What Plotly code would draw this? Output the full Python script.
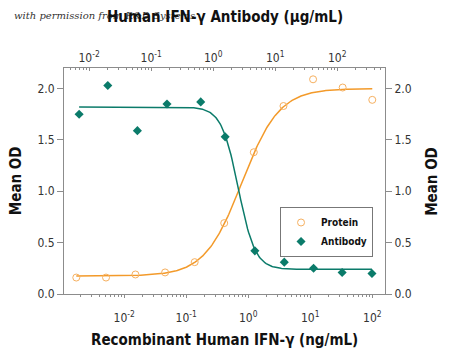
import numpy as np
import plotly.graph_objects as go

# ---- data ----
protein_conc = [0.00169, 0.0051, 0.0152, 0.0457, 0.137, 0.41, 1.23, 3.7, 11.1, 33.3, 100]   # ng/mL
protein_od = [0.16, 0.16, 0.19, 0.21, 0.31, 0.69, 1.38, 1.83, 2.09, 2.01, 1.89]

antibody_conc = [0.0069, 0.020, 0.060, 0.18, 0.63, 1.56, 4.7, 14.0, 41.5, 120, 363]   # ug/mL
antibody_od = [1.75, 2.03, 1.59, 1.85, 1.87, 1.53, 0.42, 0.31, 0.25, 0.21, 0.20]

# 4PL fit parameters
protein_fit = dict(bottom=0.175, top=2.0, log_ec50=-0.10, hill=1.45)     # ng/mL
antibody_fit = dict(bottom=0.24, top=1.82, log_ec50=0.405, hill=3.2)     # ug/mL

x_tickvals = [0.01, 0.1, 1, 10, 100]
x_ticktext = ["10<sup>-2</sup>", "10<sup>-1</sup>", "10<sup>0</sup>", "10<sup>1</sup>", "10<sup>2</sup>"]
y_tickvals = [0.0, 0.5, 1.0, 1.5, 2.0]

bottom_range = [-2.97, 2.205]
top_range = [-2.405, 2.77]

ORANGE = "#F39A2A"
ORANGE_M = "#F6B060"
TEAL = "#0B7B6A"
AX = "#8C8C8C"
FONT = "DejaVu Sans Condensed, Liberation Sans Narrow, sans-serif"


def four_pl(logx, p, rising=True):
    if rising:
        return p["bottom"] + (p["top"] - p["bottom"]) / (1 + 10 ** ((p["log_ec50"] - logx) * p["hill"]))
    return p["bottom"] + (p["top"] - p["bottom"]) / (1 + 10 ** ((logx - p["log_ec50"]) * p["hill"]))


lp = np.linspace(np.log10(protein_conc[0]), np.log10(protein_conc[-1]), 300)
la = np.linspace(np.log10(antibody_conc[0]), np.log10(antibody_conc[-1]), 300)

fig = go.Figure()
fig.add_trace(go.Scatter(x=10 ** lp, y=four_pl(lp, protein_fit, True), mode="lines",
                         line=dict(color=ORANGE, width=1.5), showlegend=False, hoverinfo="skip"))
fig.add_trace(go.Scatter(x=10 ** la, y=four_pl(la, antibody_fit, False), mode="lines",
                         line=dict(color=TEAL, width=1.5), showlegend=False, hoverinfo="skip",
                         xaxis="x2"))
fig.add_trace(go.Scatter(x=protein_conc, y=protein_od, mode="markers", name="Protein",
                         marker=dict(symbol="circle-open", size=7, color=ORANGE_M, line=dict(width=1))))
fig.add_trace(go.Scatter(x=antibody_conc, y=antibody_od, mode="markers", name="Antibody",
                         marker=dict(symbol="diamond", size=7, color=TEAL), xaxis="x2"))
# dummy trace for right axis
fig.add_trace(go.Scatter(x=[None], y=[None], yaxis="y2", showlegend=False, hoverinfo="skip"))

tickfont = dict(family=FONT, size=12, color="#333333")
titlefont = dict(family=FONT, size=15, color="#111111", weight="bold")
ytitlefont = dict(family=FONT, size=15, color="#111111", weight="bold")

fig.update_layout(
    width=442, height=355,
    margin=dict(l=56, r=65, t=60, b=69, autoexpand=False),
    paper_bgcolor="white", plot_bgcolor="white",
    font=dict(family=FONT),
    xaxis=dict(type="log", range=bottom_range, tickvals=x_tickvals, ticktext=x_ticktext,
               ticks="outside", ticklen=3, tickcolor=AX, showline=True, linecolor=AX, linewidth=1,
               showgrid=False, zeroline=False, tickfont=tickfont, ticklabelstandoff=10,
               minor=dict(ticks="outside", ticklen=2, tickcolor=AX, dtick="D1", showgrid=False)),
    xaxis2=dict(type="log", range=top_range, overlaying="x", side="top", tickvals=x_tickvals,
                ticktext=x_ticktext, ticks="inside", ticklen=3, tickcolor=AX, showline=True,
                linecolor=AX, linewidth=1, showgrid=False, zeroline=False, tickfont=tickfont,
                ticklabelstandoff=0,
                minor=dict(ticks="inside", ticklen=2, tickcolor=AX, dtick="D1", showgrid=False)),
    yaxis=dict(range=[0, 2.2], tickvals=y_tickvals, tickformat=".1f", ticks="outside", ticklen=6,
               tickcolor=AX, showline=True, linecolor=AX, linewidth=1, showgrid=False, zeroline=False,
               tickfont=tickfont),
    yaxis2=dict(range=[0, 2.2], overlaying="y", side="right", tickvals=y_tickvals, tickformat=".1f",
                ticks="outside", ticklen=6, tickcolor=AX, showline=True, linecolor=AX, linewidth=1,
                showgrid=False, zeroline=False, tickfont=tickfont),
    legend=dict(x=0.673, y=0.385, xanchor="left", yanchor="top", bordercolor="#777777", borderwidth=1,
                bgcolor="white", font=dict(family=FONT, size=10, color="#111111", weight="bold"),
                itemwidth=30, tracegroupgap=0),
    showlegend=True,
)

fig.add_annotation(text="with permission from R&D Systems", xref="paper", yref="paper",
                   x=-0.162, y=1.232, xanchor="left", yanchor="middle", showarrow=False,
                   font=dict(family="DejaVu Serif, Liberation Serif, serif", size=10, color="#333333",
                             style="italic"))
fig.add_annotation(text="Human IFN-γ Antibody (µg/mL)", xref="paper", yref="paper",
                   x=0.50, y=1.224, xanchor="center", yanchor="middle", showarrow=False, font=titlefont)
fig.add_annotation(text="Recombinant Human IFN-γ (ng/mL)", xref="paper", yref="paper",
                   x=0.50, y=-0.2035, xanchor="center", yanchor="middle", showarrow=False, font=titlefont)
fig.add_annotation(text="Mean OD", xref="paper", yref="paper", textangle=-90,
                   x=-0.149, y=0.50, xanchor="center", yanchor="middle", showarrow=False, font=ytitlefont)
fig.add_annotation(text="Mean OD", xref="paper", yref="paper", textangle=-90,
                   x=1.146, y=0.50, xanchor="center", yanchor="middle", showarrow=False, font=ytitlefont)

fig.write_html("out.html")
